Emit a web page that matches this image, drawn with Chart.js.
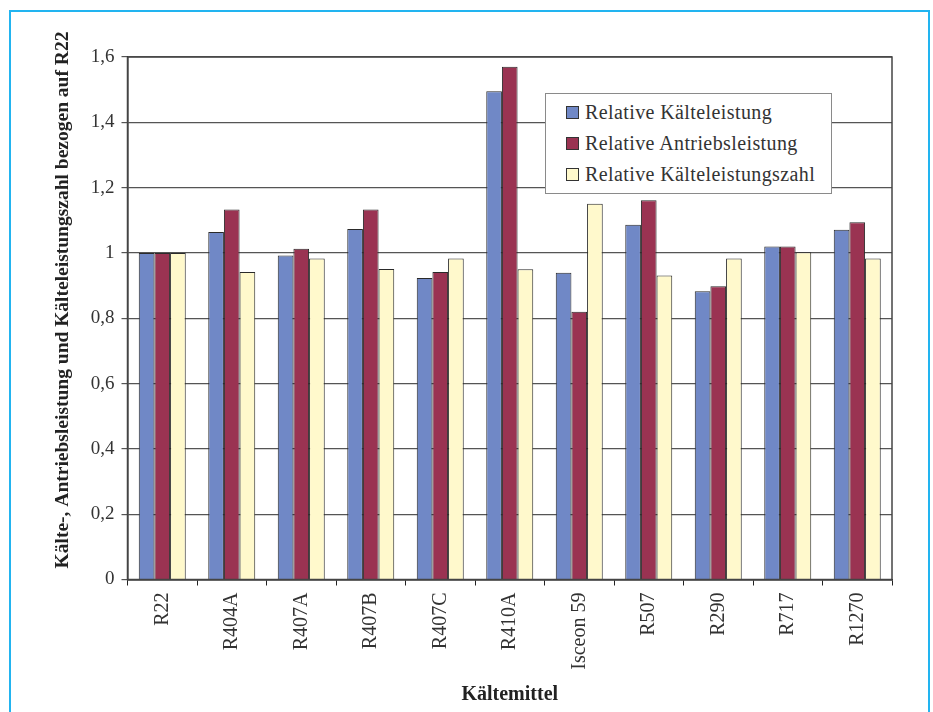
<!DOCTYPE html>
<html lang="de">
<head>
<meta charset="utf-8">
<title>Kältemittel Vergleich</title>
<script src="https://cdn.jsdelivr.net/npm/chart.js@4.4.0/dist/chart.umd.min.js"></script>
<style>
  html, body { margin: 0; padding: 0; background: #fff; }
  #wrap { position: relative; width: 933px; height: 712px; overflow: hidden; }
  #frame {
    position: absolute; left: 9px; top: 10px; width: 917px; height: 740px;
    border: 2px solid #22b4f0; border-bottom: none;
  }
  #chart { position: absolute; left: 0; top: 0; }
  #legend {
    position: absolute; left: 545px; top: 93px; width: 285px; height: 96px;
    border: 1.5px solid #8a8a8a; background: #fff;
    padding-top: 3px; box-sizing: content-box;
    font-family: "Liberation Serif", "Times New Roman", serif;
    font-size: 20px; color: #333; letter-spacing: 0.4px;
  }
  #legend .row { height: 31px; display: flex; align-items: center; padding-left: 20px; }
  #legend .box { width: 11px; height: 11px; border: 1px solid #333; margin-right: 6px; }
</style>
</head>
<body>
<div id="wrap">
  <div id="frame"></div>
  <canvas id="chart" width="933" height="712"></canvas>
  <div id="legend"></div>
</div>
<script>
// Kältemittel (categories)
const categories = ['R22', 'R404A', 'R407A', 'R407B', 'R407C', 'R410A', 'Isceon 59', 'R507', 'R290', 'R717', 'R1270'];

// series values, relative to R22
const kaelteleistung = [1.00, 1.064, 0.992, 1.073, 0.923, 1.495, 0.939, 1.086, 0.883, 1.02, 1.071];
const antriebsleistung = [1.00, 1.133, 1.013, 1.133, 0.942, 1.57, 0.82, 1.161, 0.898, 1.02, 1.094];
const kaelteleistungszahl = [1.00, 0.942, 0.983, 0.951, 0.983, 0.95, 1.151, 0.931, 0.983, 1.002, 0.983];

const seriesNames = ['Relative Kälteleistung', 'Relative Antriebsleistung', 'Relative Kälteleistungszahl'];
const seriesColors = ['#7088c6', '#9a3352', '#fff9cc'];

// y tick labels (0 .. 1,6)
const yTickLabels = ['0', '0,2', '0,4', '0,6', '0,8', '1', '1,2', '1,4', '1,6'];

const yTitle = 'Kälte-, Antriebsleistung und Kälteleistungszahl bezogen auf R22';
const xTitle = 'Kältemittel';

const serif = '"Liberation Serif", "Times New Roman", serif';

// border round the plot area + y title placed like the original
const frameAndTitle = {
    id: 'frameAndTitle',
    afterDraw(chart) {
        const { ctx, chartArea } = chart;
        ctx.save();
        ctx.strokeStyle = '#444';
        ctx.lineWidth = 1.5;
        ctx.strokeRect(chartArea.left, chartArea.top, chartArea.right - chartArea.left, chartArea.bottom - chartArea.top);
        ctx.translate(63, 300);
        ctx.rotate(-Math.PI / 2);
        ctx.font = 'bold 19.5px ' + serif;
        ctx.fillStyle = '#222';
        ctx.textAlign = 'center';
        ctx.textBaseline = 'middle';
        ctx.fillText(yTitle, 0, 0);
        ctx.restore();
    }
};

const datasets = [kaelteleistung, antriebsleistung, kaelteleistungszahl].map((data, i) => ({
    label: seriesNames[i],
    data: data,
    backgroundColor: seriesColors[i],
    borderColor: '#2a2a2a',
    borderWidth: 1,
    borderSkipped: 'bottom',
    categoryPercentage: 0.676,
    barPercentage: 1.0
}));

const ctx = document.getElementById('chart').getContext('2d');
const chart = new Chart(ctx, {
    type: 'bar',
    data: { labels: categories, datasets: datasets },
    options: {
        responsive: false,
        animation: false,
        devicePixelRatio: 1,
        layout: { padding: { left: 0, right: 41, top: 57, bottom: 0 } },
        plugins: {
            legend: { display: false },
            tooltip: { enabled: false }
        },
        scales: {
            x: {
                offset: true,
                grid: { display: true, drawOnChartArea: false, drawTicks: true, tickLength: 6, color: '#222', offset: true },
                border: { display: true, color: '#111', width: 1.5 },
                ticks: {
                    maxRotation: 90, minRotation: 90, padding: 7,
                    color: '#333',
                    font: { family: serif, size: 20 }
                },
                title: {
                    display: true, text: xTitle, color: '#222',
                    font: { family: serif, size: 20, weight: 'bold' },
                    padding: { top: 0, bottom: 5 }
                },
                afterFit(scale) { scale.height = 132.5; }
            },
            y: {
                min: 0, max: 1.6,
                ticks: {
                    stepSize: 0.2, padding: 7, color: '#333',
                    font: { family: serif, size: 19 },
                    callback: (value, index) => yTickLabels[index]
                },
                grid: { color: '#555', lineWidth: 1.2, tickLength: 6, drawTicks: true },
                border: { display: true, color: '#111', width: 1.5 },
                afterFit(scale) { scale.width = 127.5; }
            }
        }
    },
    plugins: [frameAndTitle]
});

// legend box inside the plot, as in the original
const legend = document.getElementById('legend');
chart.data.datasets.forEach(ds => {
    const row = document.createElement('div');
    row.className = 'row';
    row.innerHTML = `<span class="box" style="background:${ds.backgroundColor}"></span><span>${ds.label}</span>`;
    legend.appendChild(row);
});
</script>
</body>
</html>
